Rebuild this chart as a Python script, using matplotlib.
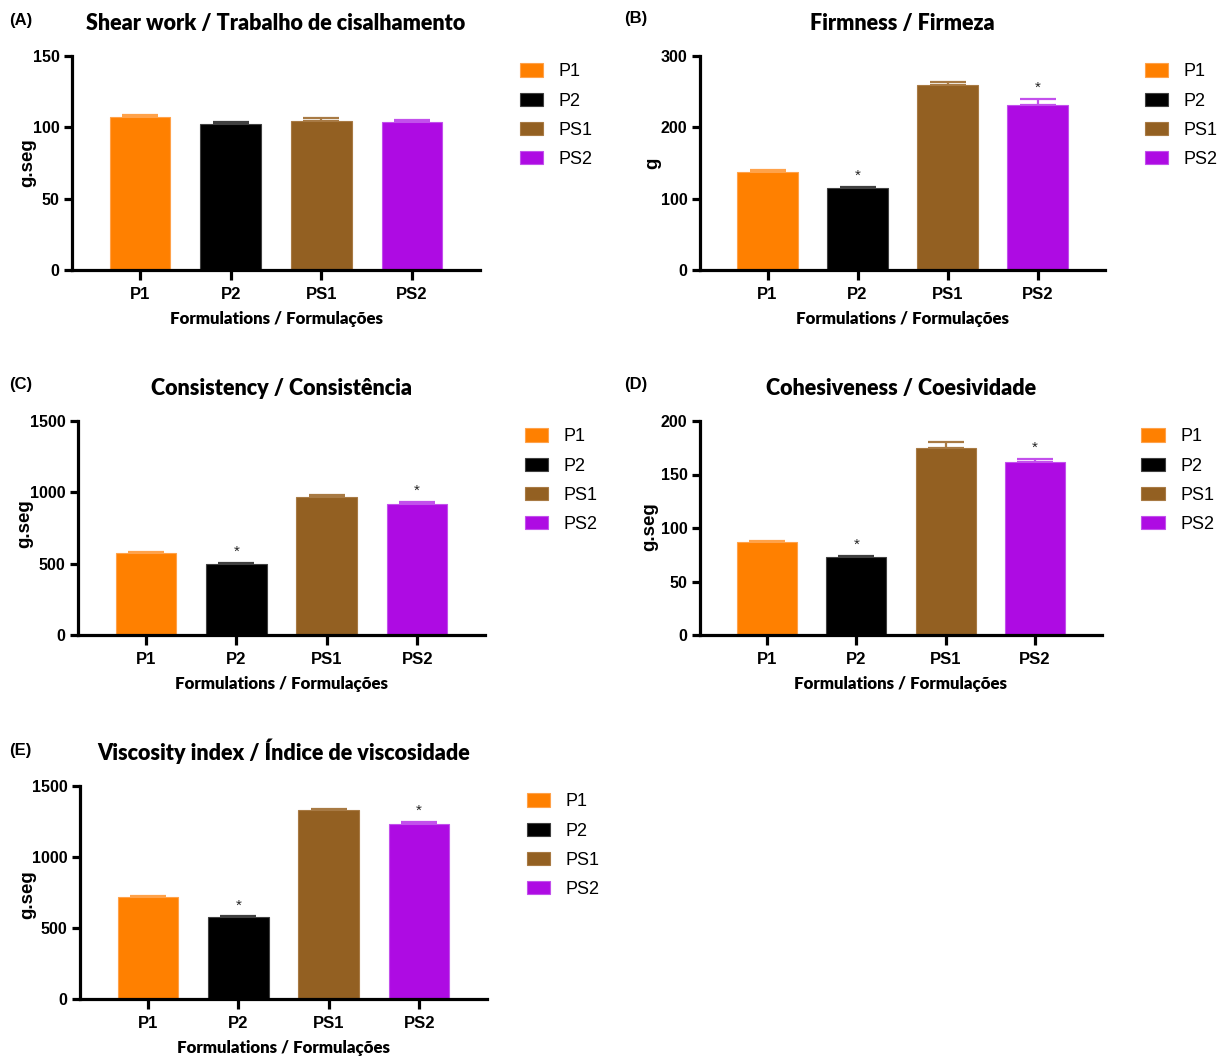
import matplotlib
matplotlib.use("Agg")
import matplotlib.pyplot as plt
import numpy as np

# formulations and measured texture parameters (mean, SD)
formulations = ["P1", "P2", "PS1", "PS2"]
bar_colors = ["#FF8000", "#000000", "#936022", "#AE0BE3"]
err_colors = ["#FFA24A", "#404040", "#A87A44", "#C250EC"]

shear_work = [107, 102, 104.5, 103.5]
shear_work_sd = [1.5, 1.5, 2.0, 1.5]
shear_work_sig = [False, False, False, False]

firmness = [137, 115, 259, 232]
firmness_sd = [3, 2, 4, 8]
firmness_sig = [False, True, False, True]

consistency = [575, 497, 970, 920]
consistency_sd = [5, 6, 8, 10]
consistency_sig = [False, True, False, True]

cohesiveness = [87, 72.5, 175, 162]
cohesiveness_sd = [0.8, 1.5, 5, 2.5]
cohesiveness_sig = [False, True, False, True]

viscosity = [720, 575, 1330, 1230]
viscosity_sd = [5, 6, 5, 15]
viscosity_sig = [False, True, False, True]

W, H = 1228, 1059
fig = plt.figure(figsize=(W / 100, H / 100), dpi=100)

TITLE_FONT = "Lato"
TICK_FONT = "Liberation Sans"


def px_axes(left, right, top, bottom):
    # pixel box -> figure fraction
    return [left / W, 1 - bottom / H, (right - left) / W, (bottom - top) / H]


def draw_panel(box, letter, letter_xy, title, ylabel, ylabel_xy,
               values, sd, sig, ymax, yticks):
    ax = fig.add_axes(px_axes(*box))
    x = np.arange(len(formulations))
    for i in range(len(formulations)):
        ax.errorbar(x[i], values[i], yerr=[[0], [sd[i]]], fmt="none",
                    ecolor=err_colors[i], elinewidth=1.6, capsize=13,
                    capthick=1.6, zorder=1)
        ax.bar(x[i], values[i], width=0.67, color=bar_colors[i],
               edgecolor=err_colors[i], linewidth=0.8, label=formulations[i],
               zorder=2)
        if sig[i]:
            ax.annotate("*", (x[i], values[i] + sd[i]), xytext=(0, 3),
                        textcoords="offset points", ha="center", va="bottom",
                        fontsize=11, fontfamily=TICK_FONT, color="#222222")

    ax.set_xlim(-0.75, 3.75)
    ax.set_ylim(0, ymax)
    ax.set_yticks(yticks)
    ax.set_xticks(x)
    ax.set_xticklabels(formulations)
    for s in ["top", "right"]:
        ax.spines[s].set_visible(False)
    for s in ["left", "bottom"]:
        ax.spines[s].set_linewidth(2.3)
    ax.tick_params(axis="both", direction="out", width=2.3, length=6,
                   labelsize=11.5, pad=3)
    ax.tick_params(axis="x", length=7, pad=5, labelsize=12)
    for lab in ax.get_xticklabels() + ax.get_yticklabels():
        lab.set_fontfamily(TICK_FONT)
        lab.set_fontweight("bold")

    ax.set_title(title, fontsize=15.5, fontweight="heavy", fontfamily=TITLE_FONT,
                 pad=19)
    ax.set_xlabel("Formulations / Formulações", fontsize=12.2, fontweight="heavy",
                  fontfamily=TITLE_FONT, labelpad=7)

    # y label placed directly in figure pixels
    fig.text(ylabel_xy[0] / W, 1 - ylabel_xy[1] / H, ylabel, rotation=90,
             ha="center", va="center", fontsize=13.5, fontweight="bold",
             fontfamily=TICK_FONT)

    ax.legend(loc="upper left", bbox_to_anchor=(1.08, 1.0), frameon=False,
              prop={"family": TICK_FONT, "size": 13}, handlelength=1.3,
              handleheight=0.75, handletextpad=0.85, labelspacing=0.68,
              borderaxespad=0)

    fig.text(letter_xy[0] / W, 1 - letter_xy[1] / H, letter, fontsize=12,
             fontweight="bold", fontfamily=TICK_FONT, va="center", ha="left")
    return ax


draw_panel((72, 480, 56, 270), "(A)", (9, 20),
           "Shear work / Trabalho de cisalhamento", "g.seg", (28, 163),
           shear_work, shear_work_sd, shear_work_sig, 150, [0, 50, 100, 150])
draw_panel((700, 1105, 56, 270), "(B)", (624, 18),
           "Firmness / Firmeza", "g", (653, 163),
           firmness, firmness_sd, firmness_sig, 300, [0, 100, 200, 300])
draw_panel((78, 485, 421, 635), "(C)", (9, 384),
           "Consistency / Consistência", "g.seg", (25, 524),
           consistency, consistency_sd, consistency_sig, 1500, [0, 500, 1000, 1500])
draw_panel((700, 1102, 421, 635), "(D)", (624, 384),
           "Cohesiveness / Coesividade", "g.seg", (650, 527),
           cohesiveness, cohesiveness_sd, cohesiveness_sig, 200, [0, 50, 100, 150, 200])
draw_panel((80, 487, 786, 999), "(E)", (9, 750),
           "Viscosity index / Índice de viscosidade", "g.seg", (28, 895),
           viscosity, viscosity_sd, viscosity_sig, 1500, [0, 500, 1000, 1500])

fig.savefig("out.png", dpi=100)
